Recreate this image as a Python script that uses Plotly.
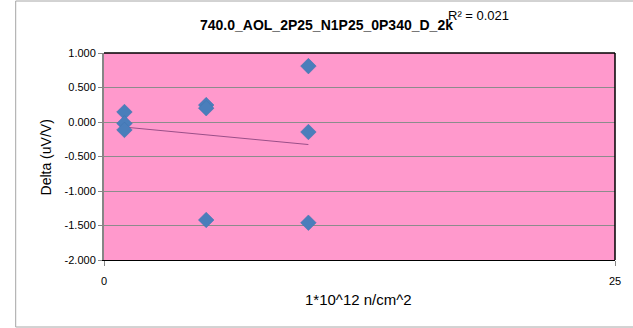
import numpy as np
import plotly.graph_objects as go

# Data
fluence = [1, 1, 1, 5, 5, 5, 10, 10, 10]
delta = [0.145, -0.02, -0.115, 0.245, 0.20, -1.42, 0.81, -0.145, -1.46]
x_ticks = [0, 25]
y_ticks = [1.0, 0.5, 0.0, -0.5, -1.0, -1.5, -2.0]
title_text = "740.0_AOL_2P25_N1P25_0P340_D_2k"
x_title = "1*10^12 n/cm^2"
y_title = "Delta (uV/V)"

# Linear trendline (least squares) over the data range
slope, intercept = np.polyfit(fluence, delta, 1)
pred = slope * np.array(fluence) + intercept
ss_res = float(np.sum((np.array(delta) - pred) ** 2))
ss_tot = float(np.sum((np.array(delta) - np.mean(delta)) ** 2))
r2 = 1 - ss_res / ss_tot
tx = [min(fluence), max(fluence)]
ty = [slope * v + intercept for v in tx]

W, H = 633, 328
L, R, T, B = 104, 14, 53, 68
pw, ph = W - L - R, H - T - B

def px_x(p):
    return (p - L) / pw

def px_y(p):
    return (H - B - p) / ph

font = "Liberation Sans, Arial, sans-serif"

fig = go.Figure()
fig.add_trace(go.Scatter(
    x=tx, y=ty, mode="lines",
    line=dict(color="#9A4F88", width=1),
    showlegend=False, hoverinfo="skip"))
fig.add_trace(go.Scatter(
    x=fluence, y=delta, mode="markers",
    marker=dict(symbol="diamond", size=12, color="#4A7EBB",
                line=dict(color="#3F72AE", width=0.5)),
    showlegend=False))

fig.update_layout(
    width=W, height=H,
    margin=dict(l=L, r=R, t=T, b=B),
    paper_bgcolor="white",
    plot_bgcolor="#FF99CC",
    font=dict(family=font, color="black", size=11),
    xaxis=dict(range=[0, 25], tickvals=x_ticks, ticktext=[str(v) for v in x_ticks],
               showgrid=False, zeroline=False, showline=True, linecolor="black",
               linewidth=1, ticks="outside", ticklen=5, tickcolor="#868686",
               ticklabelstandoff=6, tickfont=dict(size=11)),
    yaxis=dict(range=[-2, 1], tickvals=y_ticks,
               ticktext=[f"{v:.3f}" for v in y_ticks],
               showgrid=True, gridcolor="#8C8C8C", gridwidth=1,
               zeroline=False, showline=True, linecolor="#868686", linewidth=2,
               ticks="outside", ticklen=4, tickcolor="#868686",
               tickfont=dict(size=11)),
    shapes=[
        dict(type="rect", xref="paper", yref="paper",
             x0=px_x(15), x1=px_x(640), y0=px_y(327), y1=px_y(1),
             line=dict(color="#A6A6A6", width=1), layer="below"),
        dict(type="line", xref="paper", yref="paper",
             x0=0, x1=1, y0=1, y1=1, line=dict(color="black", width=1.5)),
        dict(type="line", xref="paper", yref="paper",
             x0=1, x1=1, y0=0, y1=1, line=dict(color="black", width=1.5)),
    ],
    annotations=[
        dict(text=f"<b>{title_text}</b>", xref="paper", yref="paper",
             x=px_x(328), y=px_y(25), showarrow=False,
             font=dict(size=14, family=font), xanchor="center", yanchor="middle"),
        dict(text=f"R² = {r2:.3f}", xref="paper", yref="paper",
             x=px_x(449), y=px_y(15), showarrow=False,
             font=dict(size=13, family=font), xanchor="left", yanchor="middle"),
        dict(text=y_title, xref="paper", yref="paper",
             x=px_x(46), y=px_y(157), showarrow=False, textangle=-90,
             font=dict(size=14, family=font), xanchor="center", yanchor="middle"),
        dict(text=x_title, xref="paper", yref="paper",
             x=px_x(360), y=px_y(299), showarrow=False,
             font=dict(size=15, family=font), xanchor="center", yanchor="middle"),
    ],
)

fig.write_html("out.html", config={"displayModeBar": False},
               post_script="document.body.style.margin='0';document.body.style.overflow='hidden';")
